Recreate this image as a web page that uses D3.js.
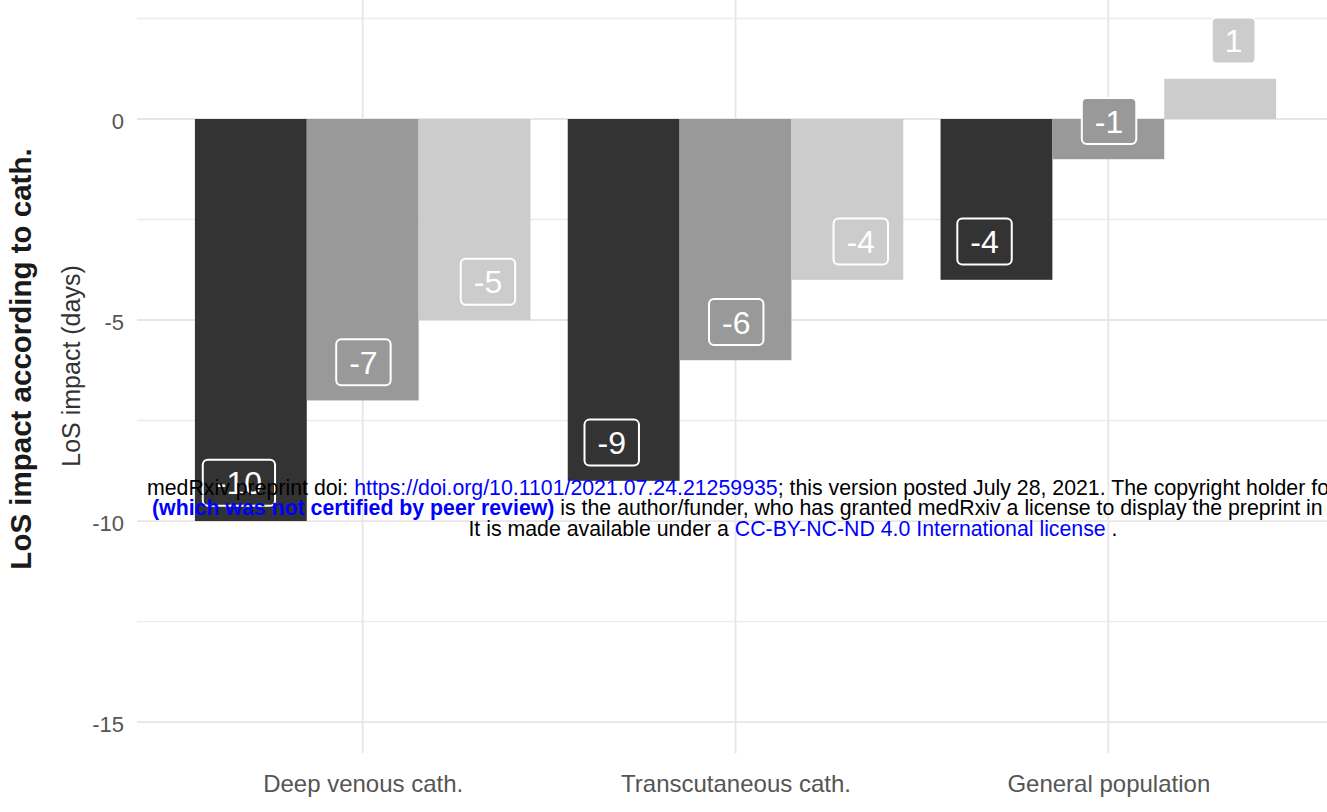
<!DOCTYPE html>
<html>
<head>
<meta charset="utf-8">
<script src="https://cdn.jsdelivr.net/npm/d3@7"></script>
<style>
  html, body { margin: 0; padding: 0; background: #ffffff; }
  svg { display: block; font-family: "Liberation Sans", Arial, Helvetica, sans-serif; }
</style>
</head>
<body>
<svg id="chart" width="1327" height="812"></svg>
<script>
// ---------------- data ----------------
const categories = ["Deep venous cath.", "Transcutaneous cath.", "General population"];
const seriesNames = ["dark", "mid", "light"];
const valuesDark  = [-10, -9, -4];
const valuesMid   = [-7, -6, -1];
const valuesLight = [-5, -4, 1];
const seriesColors = ["#333333", "#999999", "#cccccc"];
const yTicks = [0, -5, -10, -15];
const yMinorTicks = [2.5, -2.5, -7.5, -12.5];
const yTitleOuter = "LoS impact according to cath.";
const yTitleInner = "LoS impact (days)";

const seriesValues = [valuesDark, valuesMid, valuesLight];
const rows = [];
categories.forEach((c, ci) => {
  seriesNames.forEach((s, si) => {
    rows.push({ category: c, series: s, si: si, value: seriesValues[si][ci], color: seriesColors[si] });
  });
});
const fmt = v => String(v); // plain hyphen-minus as in the reference

// ---------------- layout ----------------
const svg = d3.select("#chart");
const panel = { left: 139, right: 1332, top: 0, bottom: 753 };

const x = d3.scalePoint().domain(categories).range([panel.left, panel.right]).padding(0.6);
const step = x.step();
const xInner = d3.scaleBand().domain(seriesNames).range([-0.45 * step, 0.45 * step]).padding(0);
const xLabel = d3.scalePoint().domain(seriesNames).range([-0.332 * step, 0.336 * step]);

const y = d3.scaleLinear().domain([-15.77, 2.96]).range([panel.bottom, panel.top]);

// ---------------- grid ----------------
const grid = svg.append("g");
grid.selectAll("line.minor").data(yMinorTicks).enter().append("line")
  .attr("x1", panel.left - 2).attr("x2", panel.right)
  .attr("y1", d => y(d)).attr("y2", d => y(d))
  .attr("stroke", "#ebebeb").attr("stroke-width", 1.3);
grid.selectAll("line.major").data(yTicks).enter().append("line")
  .attr("x1", panel.left - 2).attr("x2", panel.right)
  .attr("y1", d => y(d)).attr("y2", d => y(d))
  .attr("stroke", "#e6e6e6").attr("stroke-width", 1.8);
grid.selectAll("line.vx").data(categories).enter().append("line")
  .attr("x1", d => x(d)).attr("x2", d => x(d))
  .attr("y1", panel.top).attr("y2", panel.bottom)
  .attr("stroke", "#e6e6e6").attr("stroke-width", 1.8);

// ---------------- bars ----------------
svg.append("g").selectAll("rect").data(rows).enter().append("rect")
  .attr("x", d => x(d.category) + xInner(d.series))
  .attr("width", xInner.bandwidth())
  .attr("y", d => y(Math.max(0, d.value)))
  .attr("height", d => Math.abs(y(d.value) - y(0)))
  .attr("fill", d => d.color);

// ---------------- bar labels ----------------
const labelFont = 32;
const lab = svg.append("g").selectAll("g").data(rows).enter().append("g")
  .attr("transform", d => `translate(${x(d.category) + xLabel(d.series)},${y(d.value + 1) + 2})`);
lab.append("text")
  .attr("text-anchor", "middle")
  .attr("dy", "0.36em")
  .attr("font-size", labelFont)
  .attr("fill", "#ffffff")
  .text(d => fmt(d.value));
lab.each(function(d) {
  const g = d3.select(this);
  const bb = g.select("text").node().getBBox();
  const padX = 13, h = 46;
  g.insert("rect", "text")
    .attr("x", bb.x - padX).attr("y", -h / 2)
    .attr("width", bb.width + 2 * padX).attr("height", h)
    .attr("rx", 5).attr("ry", 5)
    .attr("fill", d.color)
    .attr("stroke", "#ffffff").attr("stroke-width", 2);
});

// ---------------- axes ----------------
const yAxis = d3.axisLeft(y).tickValues(yTicks).tickSize(0).tickPadding(0).tickFormat(fmt);
const gy = svg.append("g").attr("transform", `translate(${panel.left - 15},0)`).call(yAxis);
gy.select(".domain").remove();
gy.selectAll("text").attr("font-size", 22).attr("fill", "#555555")
  .attr("font-family", "'Liberation Sans', Arial, sans-serif").attr("dy", "0.45em");

const xAxis = d3.axisBottom(x).tickSize(0).tickPadding(0);
const gx = svg.append("g").attr("transform", `translate(0,${panel.bottom + 30})`).call(xAxis);
gx.select(".domain").remove();
gx.selectAll("text").attr("font-size", 24).attr("fill", "#555555")
  .attr("font-family", "'Liberation Sans', Arial, sans-serif").attr("dy", "0.36em");

// ---------------- axis titles ----------------
svg.append("text")
  .attr("transform", "translate(31,359) rotate(-90)")
  .attr("text-anchor", "middle")
  .attr("font-size", 29.5).attr("font-weight", "bold").attr("fill", "#1a1a1a")
  .text(yTitleOuter);
svg.append("text")
  .attr("transform", "translate(80,366) rotate(-90)")
  .attr("text-anchor", "middle")
  .attr("font-size", 25).attr("fill", "#333333")
  .text(yTitleInner);

// ---------------- medRxiv overlay ----------------
const wm = svg.append("g").attr("font-size", 21.3).attr("font-family", "'Liberation Sans', Arial, sans-serif");
const l1 = wm.append("text").attr("x", 147).attr("y", 495).attr("fill", "#000");
l1.append("tspan").text("medRxiv preprint doi: ");
l1.append("tspan").attr("fill", "#0000ff").text("https://doi.org/10.1101/2021.07.24.21259935");
l1.append("tspan").text("; this version posted July 28, 2021. The copyright holder for this preprint");
const l2 = wm.append("text").attr("x", 152).attr("y", 515).attr("fill", "#000");
l2.append("tspan").attr("fill", "#0000ff").attr("font-weight", "bold").text("(which was not certified by peer review)");
l2.append("tspan").text(" is the author/funder, who has granted medRxiv a license to display the preprint in perpetuity.");
const l3 = wm.append("text").attr("x", 793).attr("y", 536).attr("fill", "#000").attr("text-anchor", "middle");
l3.append("tspan").text("It is made available under a ");
l3.append("tspan").attr("fill", "#0000ff").text("CC-BY-NC-ND 4.0 International license");
l3.append("tspan").text(" .");
</script>
</body>
</html>
